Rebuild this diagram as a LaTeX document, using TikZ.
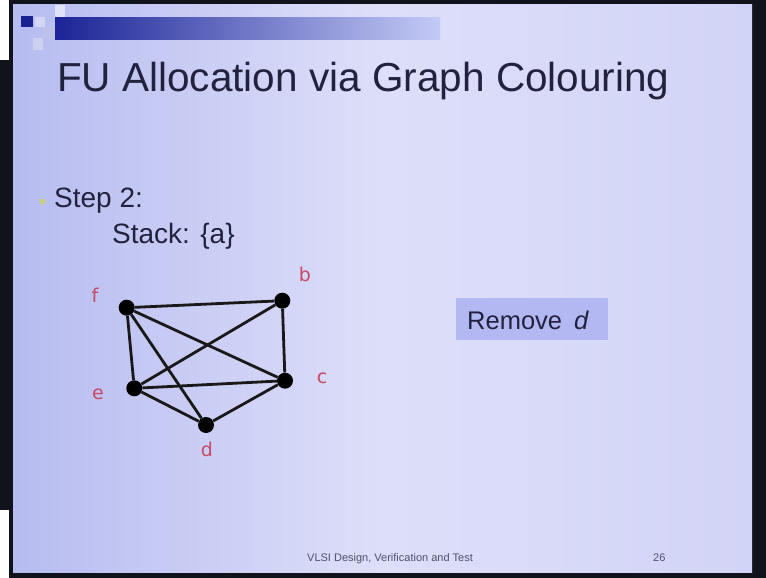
\documentclass[tikz,border=0pt]{standalone}
\usepackage{fontspec}
\setmainfont{Liberation Sans}
\newfontfamily\labelfont{DejaVu Sans}
\definecolor{slidebg}{HTML}{D2D4F7}
\definecolor{slideleft}{HTML}{B6BCF0}
\definecolor{frame}{HTML}{11131C}
\definecolor{navy}{HTML}{1A2496}
\definecolor{barlight}{HTML}{C4CAF6}
\definecolor{txt}{HTML}{22223E}
\definecolor{lbl}{HTML}{C84868}
\definecolor{boxfill}{HTML}{B4B8F2}
\definecolor{foot}{HTML}{50506A}
\definecolor{bulletc}{HTML}{C8D07A}
\begin{document}
\begin{tikzpicture}[x=1pt,y=-1pt,
  vert/.style={circle,fill=black,inner sep=0pt,minimum size=16pt},
  edge/.style={line width=2.8pt,black!90},
  vlabel/.style={text=lbl,font=\labelfont\fontsize{19}{19}\selectfont,inner sep=0pt},
  bodytext/.style={text=txt,anchor=base west,inner sep=0pt}]
\useasboundingbox (0,0) rectangle (766,578);
% frame and slide
\fill[frame] (0,0) rectangle (766,578);
\fill[white] (0,0) rectangle (9,60);
\fill[white] (0,510) rectangle (9,578);
\shade[left color=slideleft,right color=slidebg,middle color=slidebg!75!white] (13,5) rectangle (752,572);
% logo
\fill[navy!95!black] (21,16) rectangle (33,27);
\fill[fill=slideleft!60!white] (35,17) rectangle (45,27);
\fill[fill=slideleft!70!navy!55!white] (43,27) rectangle (55,38);
\fill[fill=slideleft!75!navy!45!white] (33,38) rectangle (43,50);
\fill[fill=slideleft!80!navy!30!white] (55,5) rectangle (65,17);
\shade[left color=navy,right color=barlight] (55,18) rectangle (440,40);
% title
\node[bodytext,font=\fontsize{40.5}{40.5}\selectfont] (title) at (57,92) {FU Allocation via Graph Colouring};
% bullet text
\fill[bulletc] (40,199) rectangle (45,204);
\node[bodytext,font=\fontsize{28}{28}\selectfont] (step) at (54,207) {Step 2:};
\node[bodytext,font=\fontsize{28}{28}\selectfont] (stack) at (112,243) {Stack: \{a\}};
% graph
\node[vert] (f) at (126.7,307.7) {};
\node[vert] (b) at (282.3,300.7) {};
\node[vert] (e) at (134.3,388.3) {};
\node[vert] (c) at (285,380.7) {};
\node[vert] (d) at (206,425) {};
\draw[edge] (f) -- (b);
\draw[edge] (f) -- (e);
\draw[edge] (f) -- (d);
\draw[edge] (f) -- (c);
\draw[edge] (b) -- (e);
\draw[edge] (b) -- (c);
\draw[edge] (e) -- (c);
\draw[edge] (e) -- (d);
\draw[edge] (d) -- (c);
\node[vlabel] (lf) at (95,295) {f};
\node[vlabel] (lb) at (305,274) {b};
\node[vlabel] (le) at (98,394) {e};
\node[vlabel] (lc) at (322,378) {c};
\node[vlabel] (ld) at (207,449) {d};
% remove box
\fill[boxfill] (456,298) rectangle (608,340);
\node[bodytext,font=\fontsize{25.5}{25.5}\selectfont] (rem) at (467,329) {Remove\hspace{12pt}\textit{d}};
% footer
\node[bodytext,text=foot,font=\fontsize{11}{11}\selectfont] (ft) at (307,561) {VLSI Design, Verification and Test};
\node[bodytext,text=foot,font=\fontsize{11}{11}\selectfont] (pg) at (653,561) {26};
\end{tikzpicture}
\end{document}
